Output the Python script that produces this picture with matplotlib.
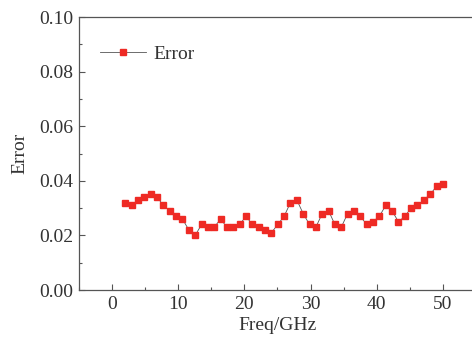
import matplotlib
matplotlib.use('Agg')
import matplotlib.pyplot as plt
from matplotlib.ticker import MultipleLocator

plt.rcParams['font.family'] = ['Liberation Serif', 'DejaVu Serif']
plt.rcParams['mathtext.fontset'] = 'stix'

# Sampled frequencies (GHz) and relative error at each point
freq = [2.00, 2.96, 3.92, 4.88, 5.84, 6.80, 7.76, 8.72, 9.68, 10.64,
        11.60, 12.56, 13.52, 14.48, 15.44, 16.40, 17.36, 18.32, 19.28, 20.24,
        21.20, 22.16, 23.12, 24.08, 25.04, 26.00, 26.96, 27.92, 28.88, 29.84,
        30.80, 31.76, 32.72, 33.68, 34.64, 35.60, 36.56, 37.52, 38.48, 39.44,
        40.40, 41.36, 42.32, 43.28, 44.24, 45.20, 46.16, 47.12, 48.08, 49.04,
        50.00]
error = [0.032, 0.031, 0.033, 0.034, 0.035, 0.034, 0.031, 0.029, 0.027, 0.026,
         0.022, 0.020, 0.024, 0.023, 0.023, 0.026, 0.023, 0.023, 0.024, 0.027,
         0.024, 0.023, 0.022, 0.021, 0.024, 0.027, 0.032, 0.033, 0.028, 0.024,
         0.023, 0.028, 0.029, 0.024, 0.023, 0.028, 0.029, 0.027, 0.024, 0.025,
         0.027, 0.031, 0.029, 0.025, 0.027, 0.030, 0.031, 0.033, 0.035, 0.038,
         0.039]

xticks = [0, 10, 20, 30, 40, 50]
yticks = [0.00, 0.02, 0.04, 0.06, 0.08, 0.10]

TEXT = '#333333'
AXIS = '#555555'

fig = plt.figure(figsize=(4.72, 3.40), dpi=100)
# axes runs slightly past the right edge, so the right frame is cut off
ax = fig.add_axes([0.1674, 0.147, 0.841, 0.803])

ax.plot(freq, error, color='#555555', linewidth=0.6,
        marker='s', markersize=4.6, markerfacecolor='#ee2a24',
        markeredgecolor='#ee2a24', label='Error')

ax.set_xlim(-5, 55)
ax.set_ylim(0, 0.10)
ax.set_xticks(xticks)
ax.set_yticks(yticks)
ax.set_yticklabels([f'{v:.2f}' for v in yticks])
ax.xaxis.set_minor_locator(MultipleLocator(5))
ax.yaxis.set_minor_locator(MultipleLocator(0.01))

ax.tick_params(which='both', direction='in', top=False, right=False,
               color=AXIS, width=0.8)
ax.tick_params(which='major', length=4, labelsize=14, labelcolor=TEXT, pad=4)
ax.tick_params(which='minor', length=2.5)

for s in ['left', 'bottom', 'top']:
    ax.spines[s].set_color(AXIS)
    ax.spines[s].set_linewidth(0.9)
ax.spines['right'].set_visible(False)

ax.set_xlabel('Freq/GHz', fontsize=14, color=TEXT, labelpad=3)
ax.set_ylabel('Error', fontsize=14, color=TEXT, labelpad=8)

leg = ax.legend(loc='upper left', bbox_to_anchor=(0.018, 0.945), frameon=False,
                fontsize=14, handlelength=2.4, handletextpad=0.35,
                borderaxespad=0.3)
for t in leg.get_texts():
    t.set_color(TEXT)

fig.savefig('out.png', dpi=100)
